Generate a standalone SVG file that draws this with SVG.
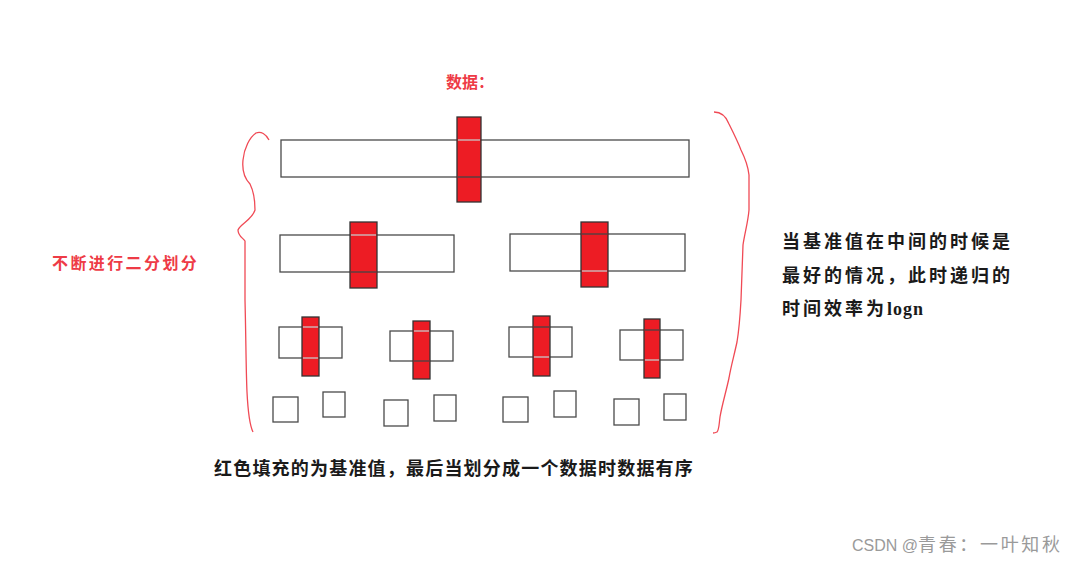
<svg xmlns="http://www.w3.org/2000/svg" width="1077" height="574" viewBox="0 0 1077 574">
<style>
.box{fill:none;stroke:#4a4a4a;stroke-width:1.3}
.piv{fill:#ED1C24;stroke:#333;stroke-width:1.3}
.lt{stroke:#c8c8c8;stroke-width:1.3}
.dk{stroke:#444;stroke-width:1.3}
.br{fill:none;stroke:#F04A55;stroke-width:1.3}
.cjk{font-family:"Noto Sans CJK SC","Noto Sans",sans-serif;font-weight:700}
.red{fill:#EE3B46}
.blk{fill:#1a1a1a}
.wm{font-family:"Liberation Sans","Noto Sans CJK SC",sans-serif;fill:#9a9a9a;font-size:16px}
</style>
<rect width="1077" height="574" fill="#fff"/>

<g id="brackets">
<path class="br" d="M269,140 C266,134 261,131 256,133 C250,137 244,148 243,160 C242,170 244,178 250,184 C254,192 255,200 255,210 C252,220 240,224 238,230 C238,236 243,238 245,241 L245,300 C246,340 246,370 247,392 C248,412 250,426 253,432"/>
<path class="br" d="M714,112 C720,112 726,116 729,124 C734,134 738,142 741,150 C745,158 748,166 749,175 L749,210 C748,222 745,232 743,245 L741,300 C740,318 739,330 737,342 C734,356 731,366 729,378 C726,392 722,405 720,417 C719,425 719,430 717,432 C715,433 714,433 713,433"/>
</g>

<g id="title"><text class="cjk red" x="446" y="88" font-size="16">数据：</text></g>
<g id="label-left"><text class="cjk red" x="52" y="269" font-size="16" letter-spacing="2.4">不断进行二分划分</text></g>
<g id="label-right" class="cjk blk" font-size="18" letter-spacing="3">
<text x="782" y="248">当基准值在中间的时候是</text>
<text x="782" y="282">最好的情况，此时递归的</text>
<text x="782" y="315">时间效率为<tspan font-family="Liberation Serif,serif" letter-spacing="1">logn</tspan></text>
</g>
<g id="label-bottom"><text class="cjk blk" x="214" y="475" font-size="18" letter-spacing="1.2">红色填充的为基准值，最后当划分成一个数据时数据有序</text></g>

<g id="row1">
<rect class="box" x="281" y="140" width="408" height="37"/>
<rect class="piv" x="457" y="117" width="24" height="85"/>
<line class="lt" x1="458" y1="140" x2="480" y2="140"/>
<line class="dk" x1="458" y1="177" x2="480" y2="177"/>
</g>

<g id="row2-left">
<rect class="box" x="280" y="235" width="174" height="37"/>
<rect class="piv" x="350" y="222" width="27" height="66"/>
<line class="lt" x1="351" y1="235" x2="376" y2="235"/>
<line class="dk" x1="351" y1="272" x2="376" y2="272"/>
</g>
<g id="row2-right">
<rect class="box" x="510" y="234" width="175" height="37"/>
<rect class="piv" x="581" y="222" width="27" height="65"/>
<line class="dk" x1="582" y1="234" x2="607" y2="234"/>
<line class="lt" x1="582" y1="271" x2="607" y2="271"/>
</g>

<g id="row3-1">
<rect class="box" x="279" y="327" width="63" height="31"/>
<rect class="piv" x="302" y="317" width="17" height="59"/>
<line class="lt" x1="303" y1="327" x2="318" y2="327"/>
<line class="lt" x1="303" y1="358" x2="318" y2="358"/>
</g>
<g id="row3-2">
<rect class="box" x="390" y="331" width="63" height="30"/>
<rect class="piv" x="413" y="321" width="17" height="58"/>
<line class="lt" x1="414" y1="331" x2="429" y2="331"/>
<line class="dk" x1="414" y1="361" x2="429" y2="361"/>
</g>
<g id="row3-3">
<rect class="box" x="509" y="327" width="63" height="30"/>
<rect class="piv" x="533" y="316" width="17" height="60"/>
<line class="dk" x1="534" y1="327" x2="549" y2="327"/>
<line class="lt" x1="534" y1="357" x2="549" y2="357"/>
</g>
<g id="row3-4">
<rect class="box" x="620" y="330" width="63" height="30"/>
<rect class="piv" x="644" y="319" width="16" height="59"/>
<line class="dk" x1="645" y1="330" x2="659" y2="330"/>
<line class="lt" x1="645" y1="360" x2="659" y2="360"/>
</g>

<g id="leaves">
<rect class="box" x="273" y="397" width="25" height="25"/>
<rect class="box" x="323" y="392" width="22" height="25"/>
<rect class="box" x="384" y="400" width="24" height="26"/>
<rect class="box" x="434" y="395" width="22" height="26"/>
<rect class="box" x="503" y="397" width="25" height="25"/>
<rect class="box" x="554" y="391" width="22" height="26"/>
<rect class="box" x="614" y="399" width="25" height="26"/>
<rect class="box" x="664" y="394" width="22" height="26"/>
</g>

<g id="watermark"><text class="wm" x="852" y="551">CSDN @<tspan x="918" font-size="18" textLength="142" lengthAdjust="spacing">青春：一叶知秋</tspan></text></g>
</svg>
